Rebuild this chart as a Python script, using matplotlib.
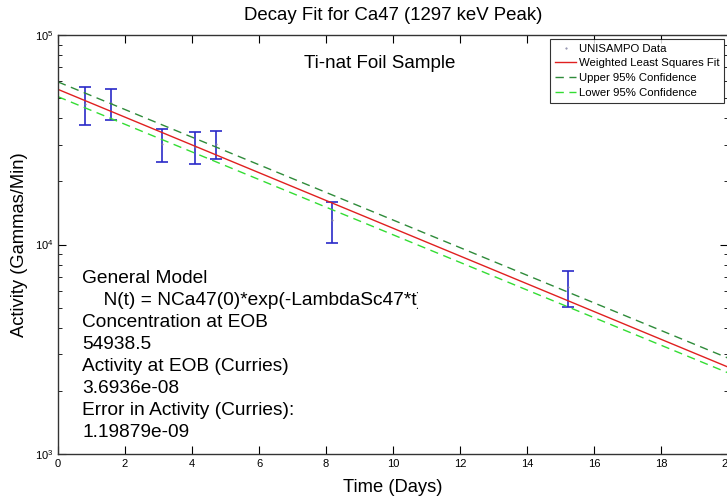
import numpy as np
import matplotlib
matplotlib.use("Agg")
import matplotlib.pyplot as plt
from matplotlib.ticker import LogLocator, NullFormatter
from matplotlib.transforms import Bbox, TransformedBbox

plt.rcParams["font.family"] = ["Liberation Sans", "DejaVu Sans"]

# measured activity with error bars
t_days = [0.80, 1.58, 3.10, 4.09, 4.71, 8.19, 15.21]
activity = [46800, 47250, 30250, 29300, 30150, 13065, 6255]
act_err = [9700, 7950, 5450, 5100, 4650, 2935, 1245]

# fit and confidence band endpoints (straight lines on log axis)
fit_t = [0, 20]
fit_vals = [55000, 2600]
upper_vals = [59700, 2870]
lower_vals = [50760, 2440]

info_lines = [
    "General Model",
    "    N(t) = NCa47(0)*exp(-LambdaSc47*t)",
    "Concentration at EOB",
    "54938.5",
    "Activity at EOB (Curries)",
    "3.6936e-08",
    "Error in Activity (Curries):",
    "1.19879e-09",
]

fig = plt.figure(figsize=(7.27, 5.0), dpi=100)
ax = fig.add_axes([0.0798, 0.092, 0.9216, 0.838])

ax.errorbar(t_days, activity, yerr=act_err, fmt="none", ecolor="#2a2ac8",
            elinewidth=1.2, capsize=4, capthick=1.2)
ax.plot(t_days, activity, ".", color="#8080a0", markersize=1, label="UNISAMPO Data")
ax.plot(fit_t, fit_vals, color="#e02020", lw=1, label="Weighted Least Squares Fit")
ax.plot(fit_t, upper_vals, "--", color="#2e8b3a", lw=1, dashes=(6, 4), label="Upper 95% Confidence")
ax.plot(fit_t, lower_vals, "--", color="#33dd33", lw=1, dashes=(6, 4), label="Lower 95% Confidence")

ax.set_yscale("log")
ax.set_xlim(0, 20)
ax.set_ylim(1e3, 1e5)
ax.set_xticks(np.arange(0, 21, 2))
ax.yaxis.set_major_locator(LogLocator(base=10))
ax.yaxis.set_minor_locator(LogLocator(base=10, subs=np.arange(2, 10)))
ax.yaxis.set_minor_formatter(NullFormatter())
ax.tick_params(which="both", direction="in", top=True, right=True, labelsize=8)
ax.tick_params(which="major", length=6)
ax.tick_params(which="minor", length=3)
for s in ax.spines.values():
    s.set_linewidth(1)
    s.set_color("#333333")

ax.set_title("Decay Fit for Ca47 (1297 keV Peak)", fontsize=13.4, pad=11)
ax.set_xlabel("Time (Days)", fontsize=13.2, labelpad=7)
ax.set_ylabel("Activity (Gammas/Min)", fontsize=13.2, labelpad=5)

ax.text(0.48, 0.933, "Ti-nat Foil Sample", transform=ax.transAxes,
        ha="center", va="center", fontsize=13.5)

# the model line is clipped by its text box in the original
clip_box = TransformedBbox(Bbox([[0, 0], [0.537, 1]]), ax.transAxes)
for i, line in enumerate(info_lines):
    txt = ax.text(0.036, 0.42 - i * 0.0525, line, transform=ax.transAxes,
                  ha="left", va="center", fontsize=13.8)
    if i == 1:
        txt.set_clip_box(clip_box)
        txt.set_clip_on(True)

leg = ax.legend(loc="upper right", bbox_to_anchor=(0.998, 0.997), fontsize=8.2,
                frameon=True, fancybox=False, edgecolor="black",
                handlelength=1.9, handletextpad=0.2, borderpad=0.45,
                labelspacing=0.42, borderaxespad=0.2)
leg.get_frame().set_linewidth(0.8)

fig.savefig("out.png", dpi=100)
